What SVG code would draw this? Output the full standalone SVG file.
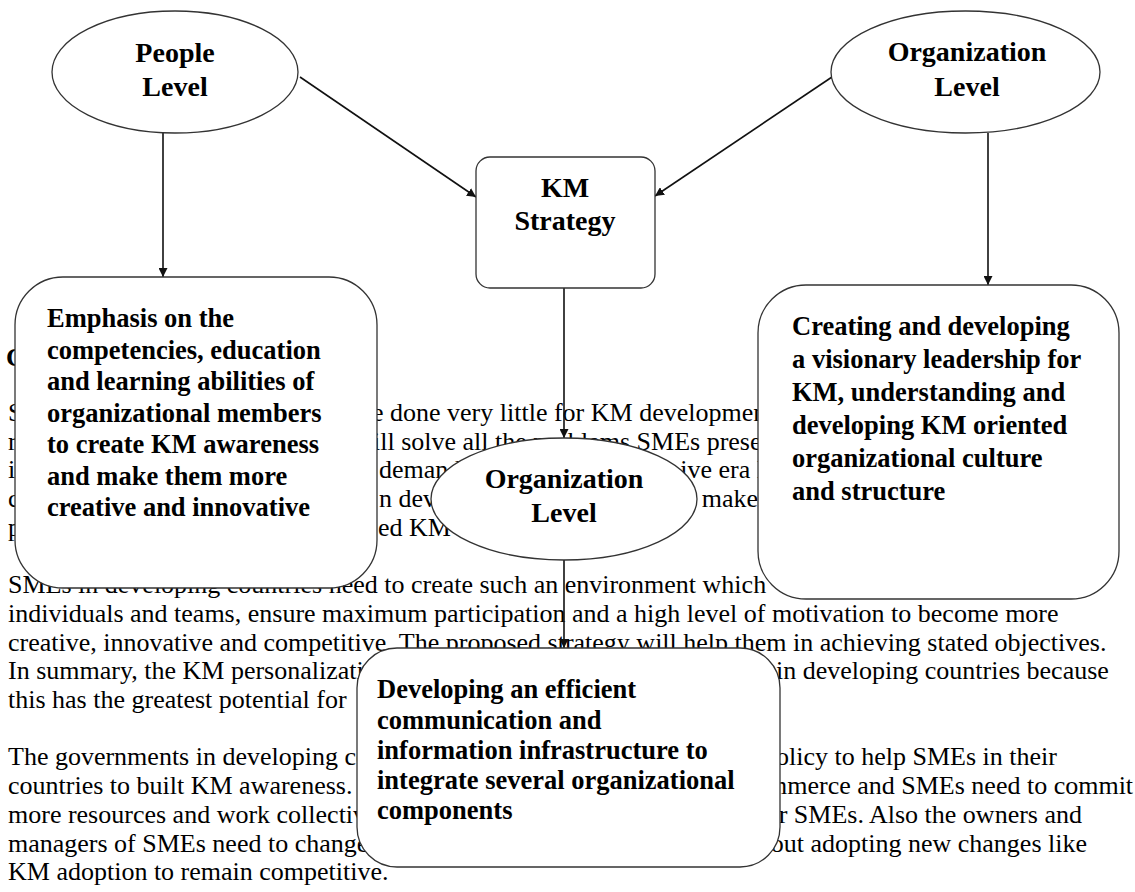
<svg xmlns="http://www.w3.org/2000/svg" width="1135" height="892" viewBox="0 0 1135 892">
  <defs>
    <marker id="arrow" viewBox="0 0 10 10" refX="10" refY="5" markerWidth="9" markerHeight="9" markerUnits="userSpaceOnUse" orient="auto">
      <path d="M0,0 L10,5 L0,10 z" fill="#111"/>
    </marker>
    <style>
      .body { font-family: "Liberation Serif", "Times New Roman", serif; font-size: 26px; fill: #000; }
      .head { font-family: "Liberation Serif", "Times New Roman", serif; font-size: 26px; font-weight: bold; fill: #000; }
      .node { fill: #fff; stroke: #333; stroke-width: 1.3; }
      .label { font-family: "Liberation Serif", "Times New Roman", serif; font-size: 28px; font-weight: bold; fill: #000; text-anchor: middle; }
      .boxtext { font-family: "Liberation Serif", "Times New Roman", serif; font-size: 26.5px; font-weight: bold; fill: #000; }
      .conn { stroke: #111; stroke-width: 1.6; fill: none; marker-end: url(#arrow); }
    </style>
  </defs>
  <rect width="1135" height="892" fill="#fff"/>

  <!-- page text running underneath the figure -->
  <g id="page-text">
    <text class="head" x="6" y="366">C</text>
    <text class="body" x="8" y="421">S</text>
    <text class="body" x="372" y="421">e done very little for KM development</text>
    <text class="body" x="8" y="449.7">r</text>
    <text class="body" x="373" y="449.7">ill solve all the problems SMEs present</text>
    <text class="body" x="8" y="478.4">i</text>
    <text class="body" x="379" y="478.4">demands</text>
    <text class="body" x="764" y="478.4" text-anchor="end">ive era l</text>
    <text class="body" x="8" y="507.1">c</text>
    <text class="body" x="379" y="507.1">n developing</text>
    <text class="body" x="758" y="507.1" text-anchor="end">make</text>
    <text class="body" x="8" y="535.8">p</text>
    <text class="body" x="378" y="535.8">ed KM st</text>
    <text class="body" x="8" y="593.2">SMEs in developing countries need to create such an environment which</text>
    <text class="body" x="8" y="621.9">individuals and teams, ensure maximum participation and a high level of motivation to become more</text>
    <text class="body" x="8" y="650.6">creative, innovative and competitive. The proposed strategy will help them in achieving stated objectives.</text>
    <text class="body" x="8" y="679.3">In summary, the KM personalizati</text>
    <text class="body" x="776" y="679.3">in developing countries because</text>
    <text class="body" x="8" y="708">this has the greatest potential for</text>
    <text class="body" x="8" y="765.4">The governments in developing co</text>
    <text class="body" x="763" y="765.4">policy to help SMEs in their</text>
    <text class="body" x="8" y="794.1">countries to built KM awareness.</text>
    <text class="body" x="767" y="794.1">mmerce and SMEs need to commit</text>
    <text class="body" x="8" y="822.8">more resources and work collectiv</text>
    <text class="body" x="1082" y="822.8" text-anchor="end">for SMEs. Also the owners and</text>
    <text class="body" x="8" y="851.5">managers of SMEs need to change</text>
    <text class="body" x="1087" y="851.5" text-anchor="end">about adopting new changes like</text>
    <text class="body" x="8" y="880.2">KM adoption to remain competitive.</text>
  </g>

  <!-- connectors -->
  <g id="connectors">
    <line class="conn" x1="300" y1="77" x2="476" y2="197"/>
    <line class="conn" x1="832" y1="77" x2="655" y2="196"/>
    <line class="conn" x1="163" y1="133" x2="163" y2="277"/>
    <line class="conn" x1="988" y1="133" x2="988" y2="285"/>
    <line class="conn" x1="564" y1="288" x2="564" y2="438"/>
    <line class="conn" x1="564" y1="560" x2="564" y2="648"/>
  </g>

  <g id="people-level">
    <ellipse class="node" cx="175" cy="72" rx="123" ry="61"/>
    <text class="label" x="175" y="62">People</text>
    <text class="label" x="175" y="96">Level</text>
  </g>

  <g id="organization-level-top">
    <ellipse class="node" cx="965.5" cy="72" rx="134.5" ry="61"/>
    <text class="label" x="967" y="61">Organization</text>
    <text class="label" x="967" y="96">Level</text>
  </g>

  <g id="km-strategy">
    <rect class="node" x="476" y="157" width="179" height="131" rx="14"/>
    <text class="label" x="565" y="197">KM</text>
    <text class="label" x="565" y="230">Strategy</text>
  </g>

  <g id="people-emphasis">
    <rect class="node" x="15" y="277" width="362" height="311" rx="48"/>
    <text class="boxtext" x="47" y="327">Emphasis on the</text>
    <text class="boxtext" x="47" y="358.5">competencies, education</text>
    <text class="boxtext" x="47" y="390">and learning abilities of</text>
    <text class="boxtext" x="47" y="421.5">organizational members</text>
    <text class="boxtext" x="47" y="453">to create KM awareness</text>
    <text class="boxtext" x="47" y="484.5">and make them more</text>
    <text class="boxtext" x="47" y="516">creative and innovative</text>
  </g>

  <g id="organization-leadership">
    <rect class="node" x="758" y="285" width="361" height="314" rx="48"/>
    <text class="boxtext" x="792" y="335">Creating and developing</text>
    <text class="boxtext" x="792" y="368">a visionary leadership for</text>
    <text class="boxtext" x="792" y="401">KM, understanding and</text>
    <text class="boxtext" x="792" y="434">developing KM oriented</text>
    <text class="boxtext" x="792" y="467">organizational culture</text>
    <text class="boxtext" x="792" y="500">and structure</text>
  </g>

  <g id="organization-level-mid">
    <ellipse class="node" cx="564" cy="499" rx="133" ry="61"/>
    <text class="label" x="564" y="488">Organization</text>
    <text class="label" x="564" y="522">Level</text>
  </g>

  <g id="infrastructure">
    <rect class="node" x="357" y="648" width="423" height="219" rx="40"/>
    <text class="boxtext" x="377" y="698">Developing an efficient</text>
    <text class="boxtext" x="377" y="728.5">communication and</text>
    <text class="boxtext" x="377" y="759">information infrastructure to</text>
    <text class="boxtext" x="377" y="789">integrate several organizational</text>
    <text class="boxtext" x="377" y="819">components</text>
  </g>
</svg>
